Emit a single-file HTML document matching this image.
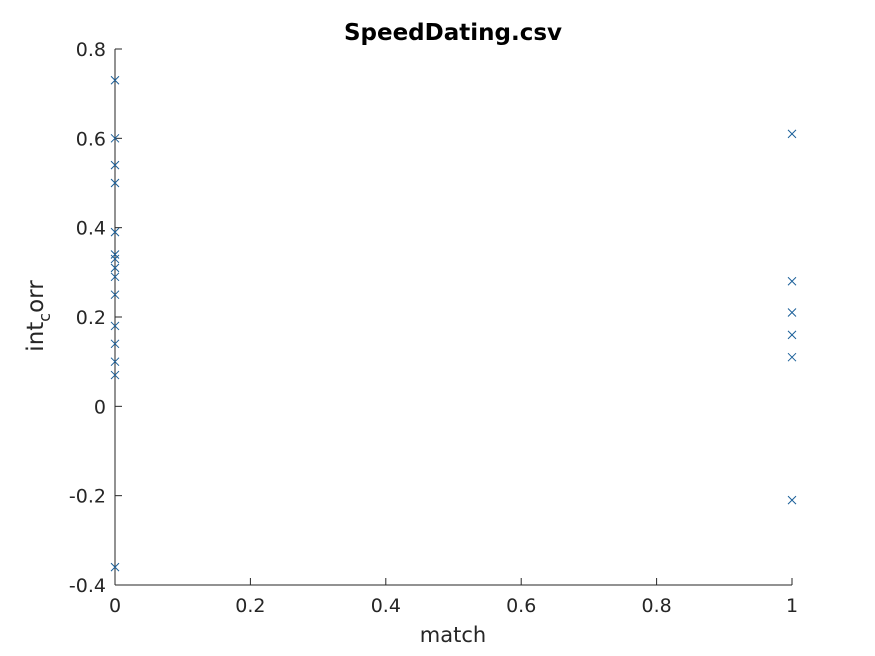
<!DOCTYPE html>
<html><head><meta charset="utf-8">
<style>
html,body{margin:0;padding:0;background:#fff;}
svg{display:block;font-family:"DejaVu Sans","Liberation Sans",sans-serif;}
</style></head>
<body>
<svg id="chart" width="875" height="656" viewBox="0 0 875 656" xmlns="http://www.w3.org/2000/svg">
  <rect width="875" height="656" fill="#fff"/>
  <text x="453" y="40" text-anchor="middle" font-size="23" font-weight="bold" fill="#000">SpeedDating.csv</text>
  <g id="axes"></g>
  <g id="points"></g>
  <text x="453" y="642" text-anchor="middle" font-size="21" fill="#262626">match</text>
  <text transform="translate(43,316) rotate(-90)" text-anchor="middle" font-size="23" fill="#262626">int<tspan font-size="16" dy="7">c</tspan><tspan dy="-7">orr</tspan></text>
</svg>
<script>
const xTicks = [0, 0.2, 0.4, 0.6, 0.8, 1];
const xTickLabels = ["0", "0.2", "0.4", "0.6", "0.8", "1"];
const yTicks = [-0.4, -0.2, 0, 0.2, 0.4, 0.6, 0.8];
const yTickLabels = ["-0.4", "-0.2", "0", "0.2", "0.4", "0.6", "0.8"];
const xValues = [0,0,0,0,0,0,0,0,0,0,0,0,0,0,0, 1,1,1,1,1,1];
const yValues = [0.73,0.60,0.54,0.50,0.39,0.34,0.33,0.31,0.29,0.25,0.18,0.14,0.10,0.07,-0.36, 0.61,0.28,0.21,0.16,0.11,-0.21];

const X0 = 115, X1 = 792, Y0 = 585, Y1 = 49;
const xMin = 0, xMax = 1, yMin = -0.4, yMax = 0.8;
function xs(v){ return X0 + (v - xMin) / (xMax - xMin) * (X1 - X0); }
function ys(v){ return Y0 - (v - yMin) / (yMax - yMin) * (Y0 - Y1); }
const NS = "http://www.w3.org/2000/svg";
const axes = document.getElementById('axes');
const pts = document.getElementById('points');
function mk(tag, attrs, parent){
  const e = document.createElementNS(NS, tag);
  for (const k in attrs) e.setAttribute(k, attrs[k]);
  parent.appendChild(e);
  return e;
}
const xl = mk('line', {x1:X0, y1:Y0, x2:X1, y2:Y0, stroke:'#262626', 'stroke-width':1}, axes);


const yl = mk('line', {x1:X0, y1:Y0, x2:X0, y2:Y1, stroke:'#262626', 'stroke-width':1}, axes);


xTicks.forEach((t, i) => {
  const x = xs(t);
  const tk = mk('line', {x1:x, y1:Y0, x2:x, y2:Y0-7, stroke:'#262626', 'stroke-width':1}, axes);
  
  
  const lb = mk('text', {x:x, y:Y0+27, 'text-anchor':'middle', 'font-size':19, fill:'#262626'}, axes);
  lb.textContent = xTickLabels[i];
  
  
});
yTicks.forEach((t, i) => {
  const y = ys(t);
  const tk = mk('line', {x1:X0, y1:y, x2:X0+7, y2:y, stroke:'#262626', 'stroke-width':1}, axes);
  
  
  const lb = mk('text', {x:X0-9, y:y+7, 'text-anchor':'end', 'font-size':19, fill:'#262626'}, axes);
  lb.textContent = yTickLabels[i];
  
  
});
xValues.forEach((xv, i) => {
  const cx = xs(xv), cy = ys(yValues[i]), r = 4;
  const p = mk('path', {d:`M${cx-r},${cy-r}L${cx+r},${cy+r}M${cx-r},${cy+r}L${cx+r},${cy-r}`, stroke:'#1a5f99', 'stroke-width':1, fill:'none'}, pts);
  
  
});
</script>
</body></html>
